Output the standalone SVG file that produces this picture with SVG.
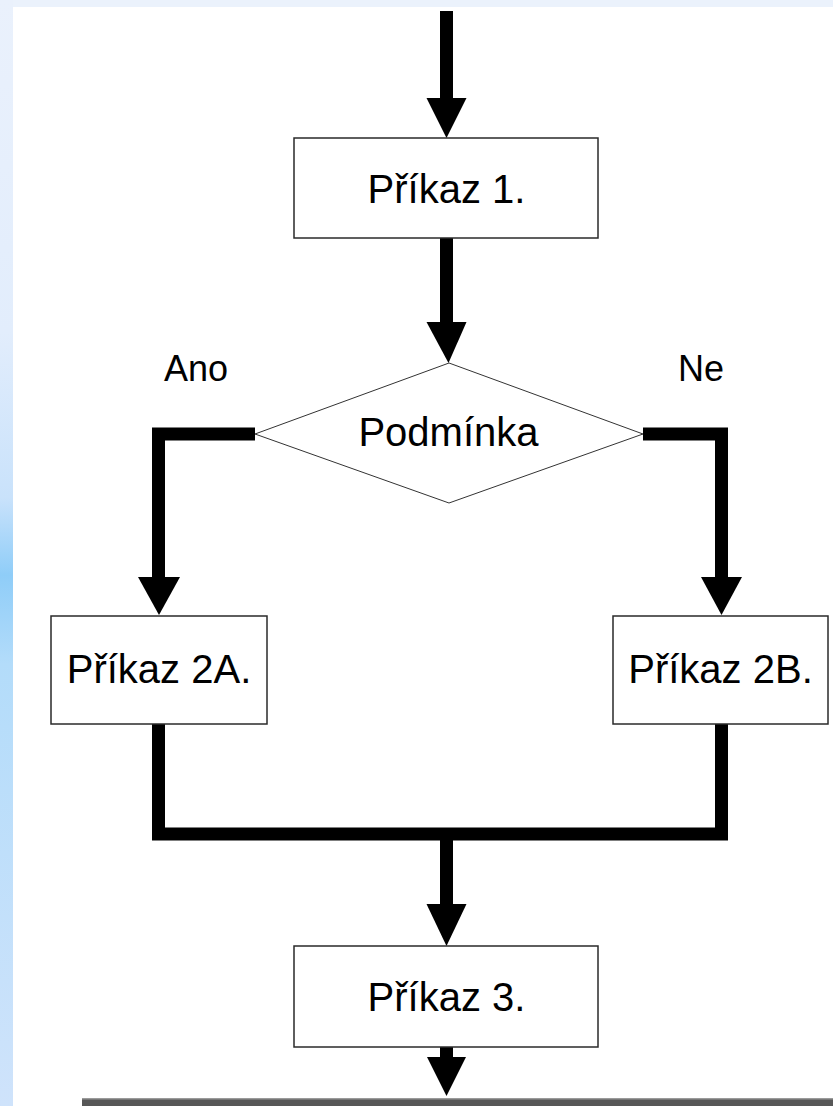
<svg xmlns="http://www.w3.org/2000/svg" width="833" height="1106" viewBox="0 0 833 1106">
  <defs>
    <linearGradient id="strip" x1="0" y1="0" x2="0" y2="1">
      <stop offset="0" stop-color="#eaf1fc"/>
      <stop offset="0.3" stop-color="#e2edfc"/>
      <stop offset="0.45" stop-color="#c9e2fb"/>
      <stop offset="0.52" stop-color="#8fcdf8"/>
      <stop offset="0.6" stop-color="#b3dcfa"/>
      <stop offset="1" stop-color="#cfe3fb"/>
    </linearGradient>
    <style>
      .box { fill: #ffffff; stroke: #2a2a2a; stroke-width: 1.5; }
      .dia { fill: #ffffff; stroke: #333333; stroke-width: 1; }
      .lbl { font-family: "Liberation Sans", Arial, sans-serif; font-size: 40px; fill: #000000; text-anchor: middle; }
      .side { font-family: "Liberation Sans", Arial, sans-serif; font-size: 36px; fill: #000000; }
      .wire { fill: none; stroke: #000000; stroke-width: 13; stroke-linejoin: miter; stroke-linecap: butt; }
      .head { fill: #000000; }
    </style>
  </defs>

  <rect x="0" y="0" width="833" height="1106" fill="#ffffff"/>
  <rect x="0" y="0" width="833" height="7" fill="#ebf2fc"/>
  <rect x="0" y="0" width="13" height="1106" fill="url(#strip)"/>
  <rect x="82" y="1099" width="751" height="7" fill="#575757"/>
  <rect x="82" y="1098" width="751" height="1.5" fill="#9a9a9a"/>

  <g id="connectors">
    <path class="wire" d="M446.5 11 V100"/>
    <polygon class="head" points="426.5,98 466.5,98 446.5,138"/>
    <path class="wire" d="M446.5 238 V324"/>
    <polygon class="head" points="426.5,322 466.5,322 448.5,363"/>
    <path class="wire" d="M255 434 H158.5 V579"/>
    <polygon class="head" points="138,577 180,577 159,615"/>
    <path class="wire" d="M643 434 H721.5 V579"/>
    <polygon class="head" points="701,577 742,577 721.5,615"/>
    <path class="wire" d="M158.5 724 V834 H721.5 V724"/>
    <path class="wire" d="M446.5 834 V906"/>
    <polygon class="head" points="426.5,904 466.5,904 446.5,946"/>
    <path class="wire" d="M446.5 1047 V1060"/>
    <polygon class="head" points="427,1057 466,1057 446.5,1096"/>
  </g>

  <g id="prikaz1">
    <rect class="box" x="294" y="138" width="304" height="100"/>
    <text class="lbl" x="446.5" y="203">Příkaz 1.</text>
  </g>

  <g id="podminka">
    <polygon class="dia" points="449,363 643,434 449,503 255,434"/>
    <text class="lbl" x="448.5" y="446">Podmínka</text>
  </g>

  <g id="ano">
    <text class="side" x="164" y="381">Ano</text>
  </g>
  <g id="ne">
    <text class="side" x="678" y="381">Ne</text>
  </g>

  <g id="prikaz2a">
    <rect class="box" x="51" y="616" width="216" height="108"/>
    <text class="lbl" x="159" y="683">Příkaz 2A.</text>
  </g>

  <g id="prikaz2b">
    <rect class="box" x="613" y="616" width="215" height="108"/>
    <text class="lbl" x="720.5" y="683">Příkaz 2B.</text>
  </g>

  <g id="prikaz3">
    <rect class="box" x="294" y="946" width="304" height="101"/>
    <text class="lbl" x="446.5" y="1011">Příkaz 3.</text>
  </g>
</svg>
